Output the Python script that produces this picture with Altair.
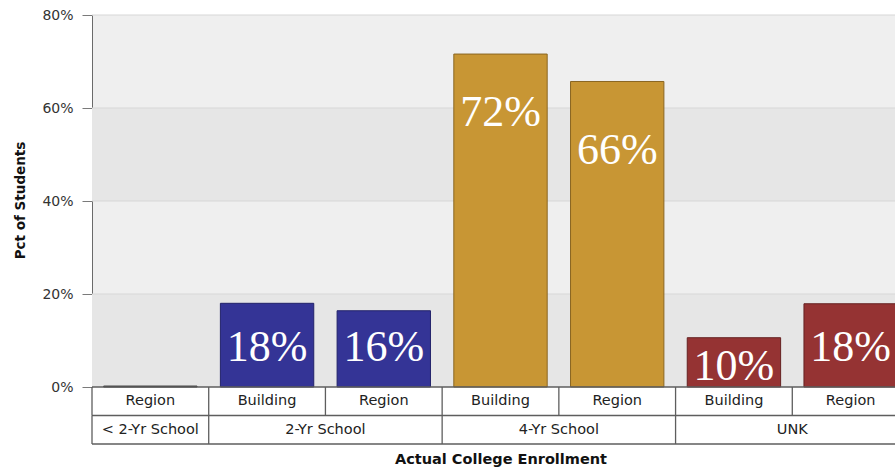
import altair as alt
import pandas as pd

# ---- data ----
groups = ["< 2-Yr School", "2-Yr School", "2-Yr School", "4-Yr School", "4-Yr School", "UNK", "UNK"]
series = ["Region", "Building", "Region", "Building", "Region", "Building", "Region"]
values = [0.2, 18.0, 16.4, 71.6, 65.7, 10.6, 17.9]
bar_labels = ["", "18%", "16%", "72%", "66%", "10%", "18%"]
label_baseline = [None, 5.5, 5.5, 56.2, 47.9, 1.6, 5.5]
group_names = ["< 2-Yr School", "2-Yr School", "4-Yr School", "UNK"]
group_spans = [1, 2, 2, 2]
y_ticks = [0, 20, 40, 60, 80]
band_lo = [0, 40]
band_hi = [20, 60]
fills = ["#555555", "#343496", "#C89634", "#953333"]
strokes = ["#333333", "#22226a", "#8a6622", "#662222"]

keys = [f"{g}|{s}|{i}" for i, (g, s) in enumerate(zip(groups, series))]
bars_df = pd.DataFrame({"key": keys, "grp": groups, "series": series, "value": values})
lab_df = pd.DataFrame({"key": keys, "text": bar_labels, "pos": label_baseline}).dropna()
lab_df = lab_df[lab_df["text"] != ""]
bands_df = pd.DataFrame({"lo": band_lo, "hi": band_hi})
grid_df = pd.DataFrame({"v": y_ticks[1:]})

PLOT_W = 803
RANGE_W = 817
PLOT_H = 372

xband = alt.Scale(domain=keys, range=[0, RANGE_W], paddingInner=0.2, paddingOuter=0.1)
yscale = alt.Scale(domain=[0, 80], nice=False)

x_axis = alt.Axis(
    title="Actual College Enrollment", labels=False, ticks=False, domain=False,
    titleY=72, titleBaseline="middle", titleFont="DejaVu Sans", titleFontSize=14.5,
    titleFontWeight="bold", titleColor="#111111",
)
y_axis = alt.Axis(
    values=y_ticks, labelExpr="datum.value + '%'", grid=False,
    tickSize=10, tickColor="#7a7a7a", domainColor="#6a6a6a",
    labelFont="DejaVu Sans", labelFontSize=14, labelColor="#333333", labelPadding=9,
    title="Pct of Students", titleFont="DejaVu Sans", titleFontSize=13.5,
    titleFontWeight="bold", titleColor="#111111",
    titleX=-72, titleY=185, titleAngle=270, titleAlign="center", titleBaseline="middle",
)

bg = alt.Chart(bands_df).mark_rect(color="#e6e6e6").encode(
    y=alt.Y("lo:Q", scale=yscale, axis=y_axis), y2="hi:Q"
)
grid = alt.Chart(grid_df).mark_rule(color="#d7d7d7", strokeWidth=1).encode(
    y=alt.Y("v:Q", scale=yscale, axis=y_axis)
)
bars = alt.Chart(bars_df).mark_bar(strokeWidth=1).encode(
    x=alt.X("key:N", sort=keys, scale=xband, axis=x_axis),
    y=alt.Y("value:Q", scale=yscale, axis=y_axis),
    fill=alt.Fill("grp:N", scale=alt.Scale(domain=group_names, range=fills), legend=None),
    stroke=alt.Stroke("grp:N", scale=alt.Scale(domain=group_names, range=strokes), legend=None),
)
labels = alt.Chart(lab_df).mark_text(
    font="Liberation Serif", fontSize=44, color="white",
    baseline="alphabetic", align="center"
).encode(
    x=alt.X("key:N", sort=keys, scale=xband, axis=x_axis),
    y=alt.Y("pos:Q", scale=yscale, axis=y_axis),
    text="text:N",
)
plot = alt.layer(bg, grid, bars, labels)

# ---- category table below the plot ----
n = len(keys)
bounds = [0]
for s in group_spans:
    bounds.append(bounds[-1] + s)
tx = alt.Scale(domain=[0, n], range=[0, RANGE_W])
ty = alt.Scale(domain=[0, 2], range=[PLOT_H, PLOT_H + 57])

h_df = pd.DataFrame({"x0": [0, 0, 0], "x1": [n, n, n], "r": [0, 1, 2]})
v_df = pd.DataFrame(
    {"x": list(range(n + 1)) + bounds,
     "r0": [0] * (n + 1) + [1] * len(bounds),
     "r1": [1] * (n + 1) + [2] * len(bounds)}
)
t1_df = pd.DataFrame({"x": [i + 0.5 for i in range(n)], "r": [0.5] * n, "t": series})
t2_df = pd.DataFrame(
    {"x": [(bounds[i] + bounds[i + 1]) / 2 for i in range(len(group_names))],
     "r": [1.5] * len(group_names), "t": group_names}
)
line_color = "#5e5e5e"
hl = alt.Chart(h_df).mark_rule(color=line_color, strokeWidth=1.3).encode(
    x=alt.X("x0:Q", scale=tx, axis=None), x2="x1:Q", y=alt.Y("r:Q", scale=ty, axis=None)
)
vl = alt.Chart(v_df).mark_rule(color=line_color, strokeWidth=1.3).encode(
    x=alt.X("x:Q", scale=tx, axis=None), y=alt.Y("r0:Q", scale=ty, axis=None), y2="r1:Q"
)
txt_kw = dict(font="DejaVu Sans", fontSize=14.5, color="#222222", baseline="middle", align="center")
t1 = alt.Chart(t1_df).mark_text(**txt_kw).encode(
    x=alt.X("x:Q", scale=tx, axis=None), y=alt.Y("r:Q", scale=ty, axis=None), text="t:N"
)
t2 = alt.Chart(t2_df).mark_text(**txt_kw).encode(
    x=alt.X("x:Q", scale=tx, axis=None), y=alt.Y("r:Q", scale=ty, axis=None), text="t:N"
)
table = alt.layer(hl, vl, t1, t2)

chart = (
    alt.layer(plot, table)
    .resolve_scale(x="independent", y="independent")
    .properties(
        width=PLOT_W, height=PLOT_H,
        autosize=alt.AutoSizeParams(type="none"),
        padding={"left": 92, "top": 15, "right": 0, "bottom": 81},
        background="white",
    )
    .configure_view(fill="#efefef", stroke=None)
)

chart.save("out.html", embed_options={"renderer": "svg", "actions": False})
